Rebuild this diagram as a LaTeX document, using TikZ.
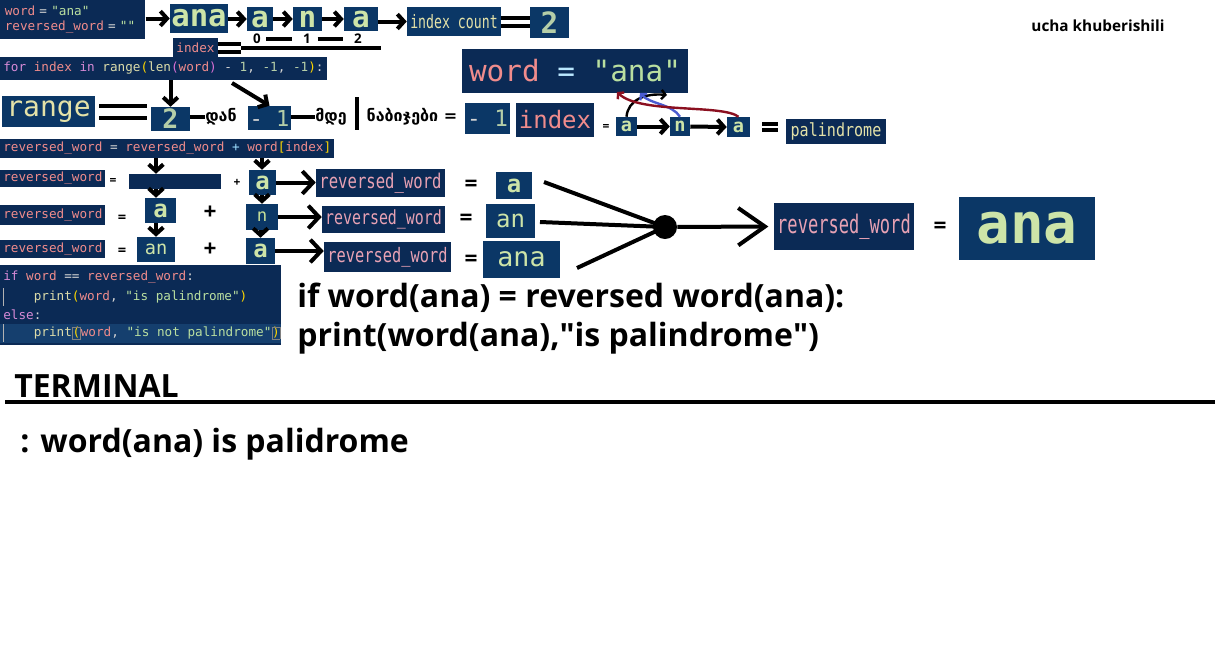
\documentclass[tikz,border=0pt]{standalone}
\usepackage{fontspec}
\setmainfont{Open Sans}
\setmonofont{DejaVu Sans Mono}
\newfontfamily\geofont{DejaVu Sans}
\usetikzlibrary{arrows.meta,calc}

% editor palette
\definecolor{codebg}{HTML}{0B2A55}
\definecolor{imgbg}{HTML}{0B3766}
\definecolor{hlbg}{HTML}{153F6E}
\definecolor{cpink}{HTML}{F08C8C}
\definecolor{cwhite}{HTML}{D4D4D4}
\definecolor{cstr}{HTML}{B9DFA0}
\definecolor{ckey}{HTML}{D68AD6}
\definecolor{cfun}{HTML}{DCDCAA}
\definecolor{cnum}{HTML}{B5CEA8}
\definecolor{cgold}{HTML}{FFD700}
\definecolor{cviol}{HTML}{DA70D6}
\definecolor{cplus}{HTML}{9CDCFE}
\definecolor{glyphc}{HTML}{CDE4A8}
\definecolor{pale}{HTML}{E4E2A8}
\definecolor{rwpink}{HTML}{E8A2B4}
\definecolor{arcred}{HTML}{8B1020}
\definecolor{arcblue}{HTML}{4A5BD0}

% syntax colouring
\newcommand\ccvar[1]{\textcolor{cpink}{#1}}
\newcommand\ccop[1]{\textcolor{cwhite}{#1}}
\newcommand\ccstr[1]{\textcolor{cstr}{#1}}
\newcommand\cckey[1]{\textcolor{ckey}{#1}}
\newcommand\ccfun[1]{\textcolor{cfun}{#1}}
\newcommand\ccnum[1]{\textcolor{cnum}{#1}}
\newcommand\ccgold[1]{\textcolor{cgold}{#1}}
\newcommand\ccviol[1]{\textcolor{cviol}{#1}}
\newcommand\ccplus[1]{\textcolor{cplus}{#1}}
\newcommand\ccbrk[1]{{\setlength{\fboxsep}{0pt}\setlength{\fboxrule}{0.5pt}\fcolorbox{gray}{hlbg}{\ccgold{#1}}}}

\begin{document}
\begin{tikzpicture}[x=0.75pt,y=-0.75pt,
  wh/.style 2 args={minimum width=#1*0.75pt, minimum height=#2*0.75pt},
  code/.style={fill=codebg, inner xsep=2.25pt, inner ysep=0pt, text=cwhite,
    font=\ttfamily\fontsize{9.5}{11.5}\selectfont},
  glyph/.style={fill=imgbg, inner sep=0pt, text=glyphc,
    font=\ttfamily\bfseries\fontsize{#1}{#1}\selectfont},
  plain/.style={fill=imgbg, inner sep=0pt, font=\ttfamily\fontsize{#1}{#1}\selectfont},
  sym/.style={inner sep=0pt, font=\bfseries\fontsize{#1}{#1}\selectfont},
  geo/.style={inner sep=0pt, font=\geofont\bfseries\fontsize{12}{12}\selectfont},
  arr/.style={line width=3pt, -{Straight Barb[length=5pt,width=11pt]}},
  bigarr/.style={line width=3pt, -{Straight Barb[length=8pt,width=17pt]}},
  curv/.style={line width=1.8pt, -{Straight Barb[length=3pt,width=7pt]}},
  bar/.style={line width=3pt},
  link/.style={line width=3pt}]

\useasboundingbox (0,0) rectangle (1215,662);
\fill[white] (0,0) rectangle (1215,662);

% ---------- first row: the word and its letters ----------
\node[code, anchor=north west, align=left, text width=102pt, wh={145}{39}] (init) at (0,0)
  {\ccvar{word} \ccop{=} \ccstr{"ana"}\\\ccvar{reversed\_word} \ccop{=} \ccstr{""}};
\node[glyph=23, wh={58}{29}] (ana) at (199,18.5) {ana};
\node[glyph=22, wh={26}{24}] (a1) at (260,19) {a};
\node[glyph=22, wh={29}{24}] (n1) at (307.5,19) {n};
\node[glyph=22, wh={34}{24}] (a2) at (361,19) {a};
\node[fill=imgbg, inner sep=0pt, text=pale, wh={94}{29},
  font=\ttfamily\fontsize{9.9}{10}\selectfont] (icount) at (454,21.5) {\scalebox{1}[1.4]{index count}};
\node[glyph=22, text=cnum, wh={39}{31}] (two) at (549.5,22.5) {2};

\draw[arr] (init.east |- ana.west) -- (ana.west);
\draw[arr] (ana.east |- a1.west) -- (a1.west);
\draw[arr] (a1.east) -- (n1.west);
\draw[arr] (n1.east) -- (a2.west);
\draw[arr] (a2.east |- icount.west) -- (icount.west);
\draw[bar] ([yshift=3pt]icount.east) -- ([yshift=3pt]icount.east -| two.west);
\draw[bar] ([yshift=-3pt]icount.east) -- ([yshift=-3pt]icount.east -| two.west);

% index positions
\node[code, wh={39}{19}] (idx) at (195.5,47.5) {\ccvar{index}};
\coordinate (ul1) at (241,48);
\coordinate (ul2) at (381,48);
\draw[bar] ([yshift=3pt]idx.east) -- ([yshift=3pt]idx.east -| ul1);
\draw[bar] ([yshift=-3pt]idx.east) -- ([yshift=-3pt]idx.east -| ul1);
\draw[bar] (ul1) -- (ul2);
\node[sym=10] (p0) at (257,39) {0};
\node[sym=10] (p1) at (307,39) {1};
\node[sym=10] (p2) at (358,39) {2};
\draw[bar, shorten <=4pt, shorten >=8pt] (p0.east) -- (p1.west);
\draw[bar, shorten <=5pt, shorten >=8pt] (p1.east) -- (p2.west);

\node[anchor=center] at (1098,26) {\bfseries\fontsize{11.5}{12}\selectfont ucha khuberishili};

% ---------- the loop header ----------
\node[code, anchor=west, wh={0}{23}] (forl) at (0,68.5)
  {\cckey{for} \ccvar{index} \cckey{in} \ccfun{range}\ccgold{(}\ccfun{len}\ccviol{(}\ccvar{word}\ccviol{)} \ccop{-} \ccnum{1}\ccop{,} \ccnum{-1}\ccop{,} \ccnum{-1}\ccgold{)}\ccop{:}};

\node[plain=21, text=pale, wh={93}{31}] (rng) at (48.5,111.5) {range};
\node[glyph=20, text=cnum, wh={39}{24}] (twob) at (170.5,119) {2};
\node[geo] (dan) at (221,117) {დან};
\node[plain=16.5, wh={43}{24}] (mone) at (269.5,118) {\textcolor{cwhite}{-} \textcolor{cnum}{1}};
\node[geo] (mde) at (331,117) {მდე};
\node[geo] (nab) at (412,117) {ნაბიჯები =};

\draw[arr] (forl.south -| twob.north) -- (twob.north);
\coordinate (dstart) at (232,83);
\draw[arr] (dstart) -- (mone.north);
\draw[bar, shorten <=3pt, shorten >=3pt] ([yshift=4.5pt]rng.east) -- ([yshift=4.5pt]rng.east -| twob.west);
\draw[bar, shorten <=3pt, shorten >=3pt] ([yshift=-4.5pt]rng.east) -- ([yshift=-4.5pt]rng.east -| twob.west);
\draw[link] (twob.east |- dan.west) -- (dan.west);
\draw[link] (mone.east |- mde.west) -- (mde.west);
\draw[bar] ($(mde.east)!0.5!(nab.west)+(0,-20)$) -- ($(mde.east)!0.5!(nab.west)+(0,13)$);

% ---------- word = "ana" and the step -1 ----------
\node[plain=22, fill=codebg, wh={226}{44}] (bigword) at (575,71)
  {\ccvar{word} \textcolor{cplus!70!white}{=} \ccstr{"ana"}};
\node[plain=17, wh={45}{31}] (mone2) at (487.5,118) {\textcolor{cwhite}{-} \textcolor{cnum}{1}};
\node[plain=18, fill=codebg, text=cpink, wh={78}{34}] (idx2) at (555,120) {index};
\node[sym=9] (eqs) at (606,127) {=};
\node[glyph=14, wh={21}{19}] (sa1) at (626.5,126.5) {a};
\node[glyph=14, wh={20}{19}] (sn) at (680,126.5) {n};
\node[glyph=14, wh={23}{20}] (sa2) at (738.5,127) {a};
\node[fill=codebg, inner sep=0pt, text=pale, wh={100}{25},
  font=\ttfamily\fontsize{11.3}{12}\selectfont] (pal) at (836,131.5) {\scalebox{1}[1.2]{palindrome}};

\draw[arr] (sa1.east) -- (sn.west);
\draw[arr] (sn.east) -- (sa2.west);
\draw[bar, shorten <=9pt, shorten >=6pt] ([yshift=2.5pt]sa2.east) -- ([yshift=2.5pt]sa2.east -| pal.west);
\draw[bar, shorten <=9pt, shorten >=6pt] ([yshift=-2.5pt]sa2.east) -- ([yshift=-2.5pt]sa2.east -| pal.west);

\draw[curv, black] (sa1.north) .. controls (628,100) and (645,93) .. (667,95);
\draw[curv, arcblue] (sn.north) .. controls (672,104) and (650,104) .. (640,93);
\draw[curv, arcred] (sa2.north) .. controls (722,104) and (640,114) .. (617,92);

% ---------- building the reversed word ----------
\node[code, anchor=west, wh={0}{19}] (revl) at (0,148.5)
  {\ccvar{reversed\_word} \ccop{=} \ccvar{reversed\_word} \ccplus{+} \ccvar{word}\ccgold{[}\ccvar{index}\ccgold{]}};

% first step
\node[code, anchor=west, wh={0}{17}] (rw1) at (0,178.5) {\ccvar{reversed\_word}};
\node[sym=9] at (113,181) {=};
\node[fill=codebg, inner sep=0pt, wh={92}{15}] (empty) at (175,181.5) {};
\node[sym=9] at (237,183) {+};
\node[glyph=18, wh={27}{25}] (ra1) at (262.5,182.5) {a};
\node[fill=codebg, inner sep=0pt, text=rwpink, wh={129}{28},
  font=\ttfamily\fontsize{11.7}{12}\selectfont] (rwb1) at (380.5,183) {\scalebox{1}[1.3]{reversed\_word}};
\node[sym=17] at (471,186) {=};
\node[glyph=18, wh={36}{27}] (rr1) at (514,185.5) {a};

% second step
\node[code, anchor=west, wh={0}{20}] (rw2) at (0,215) {\ccvar{reversed\_word}};
\node[sym=11] at (122,219) {=};
\node[glyph=18, wh={31}{25}] (rba) at (160.5,210.5) {a};
\node[sym=17] at (210,213) {+};
\node[plain=13, text=cfun!90!green, wh={32}{26}] (rn) at (262,217) {n};
\node[fill=codebg, inner sep=0pt, text=rwpink, wh={123}{27},
  font=\ttfamily\fontsize{11.2}{12}\selectfont] (rwb2) at (383.5,219.5) {\scalebox{1}[1.3]{reversed\_word}};
\node[sym=17] at (466,220) {=};
\node[plain=18, text=glyphc, wh={49}{34}] (rr2) at (510.5,221) {an};

% third step
\node[code, anchor=west, wh={0}{18}] (rw3) at (0,249) {\ccvar{reversed\_word}};
\node[sym=11] at (122,252) {=};
\node[plain=14, text=glyphc, wh={38}{25}] (ran) at (156,249.5) {an};
\node[sym=17] at (210,250) {+};
\node[glyph=18, wh={29}{26}] (ra3) at (260.5,251) {a};
\node[fill=codebg, inner sep=0pt, text=rwpink, wh={127}{30},
  font=\ttfamily\fontsize{11.5}{12}\selectfont] (rwb3) at (387.5,257) {\scalebox{1}[1.3]{reversed\_word}};
\node[sym=17] at (471,261) {=};
\node[plain=20, text=glyphc, wh={77}{37}] (rr3) at (521.5,259.5) {ana};

\draw[arr] (revl.south -| ran.north) -- (empty.north -| ran.north);
\draw[arr] (revl.south -| rn.north) -- (ra1.north -| rn.north);
\draw[arr] (empty.south -| ran.north) -- (rba.north -| ran.north);
\draw[arr] (ra1.south -| rn.north) -- (rn.north);
\draw[arr] (ran.north |- rba.south) -- (ran.north);
\draw[arr] (ra3.north |- rn.south) -- (ra3.north);
\draw[bigarr] (ra1.east) -- (rwb1.west |- ra1.east);
\draw[bigarr] (rn.east) -- (rwb2.west |- rn.east);
\draw[bigarr] (ra3.east) -- (rwb3.west |- ra3.east);

% the three results meet in one
\node[circle, fill=black, inner sep=0pt, minimum size=18pt] (dot) at (665,227) {};
\coordinate (c1) at (544,182);
\coordinate (c2) at (540,222);
\coordinate (c3) at (577,268);
\draw[link] (c1) -- (dot.center);
\draw[link] (c2) -- (dot.center);
\draw[link] (c3) -- (dot.center);
\node[fill=codebg, inner sep=0pt, text=rwpink, wh={140}{47},
  font=\ttfamily\fontsize{12.8}{13}\selectfont] (rwbig) at (844,226.5) {\scalebox{1}[1.5]{reversed\_word}};
\node[sym=17] at (940,228) {=};
\node[glyph=42, wh={136}{63}] (anabig) at (1027,228.5) {ana};
\draw[line width=3pt, -{Straight Barb[length=20pt,width=28pt]}, shorten >=4pt] (dot) -- (rwbig.west);

% ---------- the comparison ----------
\node[fill=codebg, inner sep=0pt, anchor=north west, wh={281}{80}] (cblk) at (0,265) {};
\fill[hlbg] (0,324) rectangle (281,343);
\draw[gray!60, line width=0.5pt] (3,288) -- (3,306) (3,324) -- (3,342);
\node[code, fill=none, anchor=west] (l1) at (0,277) {\cckey{if} \ccvar{word} \ccop{==} \ccvar{reversed\_word}\ccop{:}};
\node[code, fill=none, anchor=west] (l2) at (0,297) {\phantom{0000}\ccfun{print}\ccgold{(}\ccvar{word}\ccop{,} \ccstr{"is palindrome"}\ccgold{)}};
\node[code, fill=none, anchor=west] (l3) at (0,315) {\cckey{else}\ccop{:}};
\node[code, fill=none, anchor=west] (l4) at (0,333) {\phantom{0000}\ccfun{print}\ccbrk{(}\ccvar{word}\ccop{,} \ccstr{"is not palindrome"}\ccbrk{)}};

\node[anchor=west, inner sep=0pt, font=\bfseries\fontsize{24}{26}\selectfont] (cmp1) at (297,298) {if word(ana) = reversed word(ana):};
\node[anchor=west, inner sep=0pt, font=\bfseries\fontsize{24}{26}\selectfont] (cmp2) at (297,338) {print(word(ana),\textquotedbl is palindrome\textquotedbl)};

% ---------- terminal ----------
\node[anchor=west, inner sep=0pt, font=\bfseries\fontsize{24}{26}\selectfont] (term) at (14,386) {TERMINAL};
\draw[line width=3pt] (5,402) -- (1215,402);
\node[anchor=west, inner sep=0pt, font=\bfseries\fontsize{24}{26}\selectfont] (out) at (20,444) {: word(ana) is palidrome};
\end{tikzpicture}
\end{document}
